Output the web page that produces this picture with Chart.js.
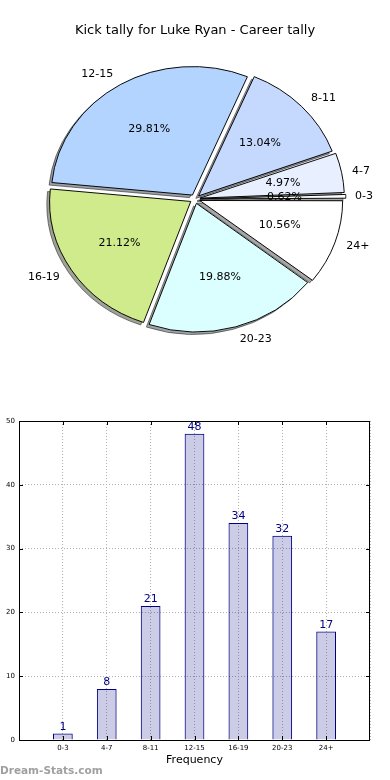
<!DOCTYPE html>
<html lang="en">
<head>
    <meta charset="UTF-8">
    <meta name="viewport" content="width=device-width, initial-scale=1.0">
    <title>Kick tally for Luke Ryan</title>
    <script src="https://cdn.jsdelivr.net/npm/chart.js"></script>
    <style>
        body {
            margin: 0;
            width: 390px;
            height: 780px;
            position: relative;
            overflow: hidden;
            background: #fff;
            font-family: "DejaVu Sans", sans-serif;
        }
        #title {
            position: absolute;
            top: 22px;
            left: 0;
            width: 390px;
            text-align: center;
            font-size: 13px;
            line-height: 16px;
            color: #000;
        }
        #pie-box {
            position: absolute;
            left: 0;
            top: 0;
            width: 390px;
            height: 400px;
        }
        #bar-box {
            position: absolute;
            left: 0;
            top: 400px;
            width: 390px;
            height: 380px;
        }
        #brand {
            position: absolute;
            left: 0;
            top: 763px;
            font-size: 10.5px;
            font-weight: bold;
            line-height: 14px;
            color: #a0a0a0;
        }
    </style>
</head>
<body>
    <div id="pie-box"><canvas id="pie-chart"></canvas></div>
    <div id="title">Kick tally for Luke Ryan - Career tally</div>
    <div id="bar-box"><canvas id="bar-chart"></canvas></div>
    <div id="brand">Dream-Stats.com</div>

    <script>
        // kicks per game, grouped
        const categories = ['0-3', '4-7', '8-11', '12-15', '16-19', '20-23', '24+'];
        const kicks = [1, 8, 21, 48, 34, 32, 17];
        const sliceColors = ['#ffffff', '#e8f0ff', '#c5d9ff', '#b3d4ff', '#d0eb8c', '#dbffff', '#ffffff'];
        const yTicks = [0, 10, 20, 30, 40, 50];

        const total = kicks.reduce((a, b) => a + b, 0);
        const squash = 0.91; // the original pie is a bit flattened

        // pie goes counter-clockwise from 3 o'clock, so feed it reversed
        const pieLabels = categories.slice().reverse();
        const pieValues = kicks.slice().reverse();
        const pieColors = sliceColors.slice().reverse();

        const pieLook = {
            id: 'pieLook',
            beforeDatasetsDraw(chart) {
                const ctx = chart.ctx;
                const arcs = chart.getDatasetMeta(0).data;
                const cx = arcs[0].x, cy = arcs[0].y;
                ctx.save();
                ctx.translate(cx, cy);
                ctx.scale(1, squash);
                ctx.translate(-cx, -cy);
                // shadows under all wedges
                ctx.save();
                ctx.translate(-2.8, 2.8);
                ctx.filter = 'brightness(0.3) opacity(0.5)';
                arcs.forEach(a => a.draw(ctx));
                ctx.restore();
            },
            afterDatasetsDraw(chart) {
                chart.ctx.restore();
            },
            afterDraw(chart) {
                const ctx = chart.ctx;
                const arcs = chart.getDatasetMeta(0).data;
                ctx.save();
                ctx.font = '11px "DejaVu Sans"';
                ctx.fillStyle = '#000';
                ctx.textBaseline = 'middle';
                arcs.forEach((a, i) => {
                    const mid = (a.startAngle + a.endAngle) / 2;
                    const shift = a.options.offset / 4;
                    const r = a.outerRadius;
                    const at = k => [a.x + (shift + k * r) * Math.cos(mid),
                                     a.y + (shift + k * r) * Math.sin(mid) * squash];
                    const [lx, ly] = at(1.1);
                    ctx.textAlign = Math.cos(mid) >= 0 ? 'left' : 'right';
                    ctx.fillText(pieLabels[i], lx, ly);
                    const [px, py] = at(0.6);
                    ctx.textAlign = 'center';
                    ctx.fillText((pieValues[i] / total * 100).toFixed(2) + '%', px, py);
                });
                ctx.restore();
            }
        };

        new Chart(document.getElementById('pie-chart'), {
            type: 'pie',
            data: {
                labels: pieLabels,
                datasets: [{
                    data: pieValues,
                    backgroundColor: pieColors,
                    borderColor: '#000',
                    borderWidth: 1,
                    offset: 20
                }]
            },
            options: {
                responsive: true,
                maintainAspectRatio: false,
                animation: false,
                events: [],
                rotation: 90,
                radius: 141,
                layout: { padding: { bottom: 2 } },
                plugins: {
                    legend: { display: false },
                    tooltip: { enabled: false }
                }
            },
            plugins: [pieLook]
        });

        // frame, inward ticks and the value above each bar
        const barLook = {
            id: 'barLook',
            afterDraw(chart) {
                const ctx = chart.ctx;
                const { left, right, top, bottom } = chart.chartArea;
                const xs = chart.scales.x, ys = chart.scales.y;
                ctx.save();
                ctx.strokeStyle = '#000';
                ctx.lineWidth = 1;
                ctx.beginPath();
                yTicks.forEach(v => {
                    const y = Math.round(ys.getPixelForValue(v)) + 0.5;
                    ctx.moveTo(left, y); ctx.lineTo(left + 4, y);
                    ctx.moveTo(right, y); ctx.lineTo(right - 4, y);
                });
                categories.forEach((c, i) => {
                    const x = Math.round(xs.getPixelForValue(i + 1)) + 0.5;
                    ctx.moveTo(x, bottom); ctx.lineTo(x, bottom - 4);
                    ctx.moveTo(x, top); ctx.lineTo(x, top + 4);
                });
                ctx.stroke();
                ctx.strokeRect(Math.round(left) + 0.5, Math.round(top) + 0.5,
                               Math.round(right - left) - 1, Math.round(bottom - top));

                ctx.font = '11px "DejaVu Sans"';
                ctx.fillStyle = '#000080';
                ctx.textAlign = 'center';
                ctx.textBaseline = 'bottom';
                chart.getDatasetMeta(0).data.forEach((bar, i) => {
                    ctx.fillText(kicks[i], bar.x, bar.y - 1);
                });
                ctx.restore();
            }
        };

        new Chart(document.getElementById('bar-chart'), {
            type: 'bar',
            data: {
                datasets: [{
                    data: kicks.map((v, i) => ({ x: i + 1, y: v })),
                    backgroundColor: 'rgba(0, 0, 128, 0.2)',
                    borderColor: '#000080',
                    borderWidth: 1,
                    barPercentage: 0.45,
                    categoryPercentage: 1
                }]
            },
            options: {
                responsive: true,
                maintainAspectRatio: false,
                animation: false,
                events: [],
                layout: { padding: { top: 21, right: 20, left: 0, bottom: 0 } },
                plugins: {
                    legend: { display: false },
                    tooltip: { enabled: false }
                },
                scales: {
                    x: {
                        type: 'linear',
                        min: 0,
                        max: categories.length + 1,
                        offset: false,
                        ticks: {
                            stepSize: 1,
                            autoSkip: false,
                            maxRotation: 0,
                            padding: 4,
                            color: '#000',
                            font: { family: 'DejaVu Sans', size: 7 },
                            callback: v => categories[v - 1] || ''
                        },
                        grid: { color: '#b0b0b0', drawTicks: false, offset: false },
                        border: { display: false, dash: [1, 2] },
                        title: {
                            display: true,
                            text: 'Frequency',
                            color: '#000',
                            font: { family: 'DejaVu Sans', size: 11 },
                            padding: { top: 0, bottom: 13 }
                        },
                        afterFit: s => { s.height = 40; }
                    },
                    y: {
                        min: yTicks[0],
                        max: yTicks[yTicks.length - 1],
                        ticks: {
                            stepSize: yTicks[1] - yTicks[0],
                            padding: 4,
                            color: '#000',
                            font: { family: 'DejaVu Sans', size: 7 }
                        },
                        grid: { color: '#b0b0b0', drawTicks: false },
                        border: { display: false, dash: [1, 2] },
                        afterFit: s => { s.width = 19; }
                    }
                }
            },
            plugins: [barLook]
        });
    </script>
</body>
</html>
